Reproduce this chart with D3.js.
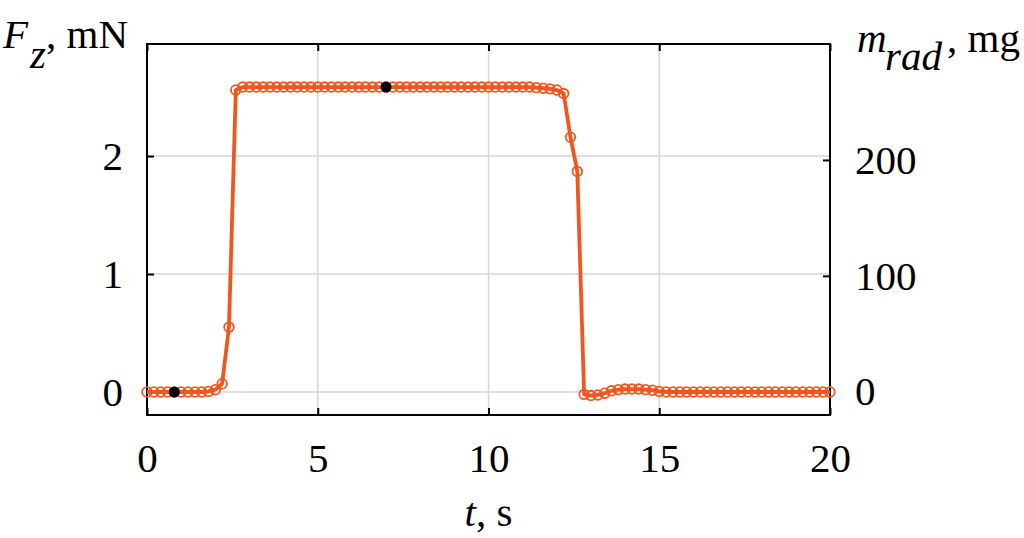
<!DOCTYPE html>
<html>
<head>
<meta charset="utf-8">
<script src="https://cdn.jsdelivr.net/npm/d3@7"></script>
<style>
  body { margin: 0; background: #fff; }
  svg text { font-family: "Liberation Serif", "DejaVu Serif", serif; fill: #000; }
</style>
</head>
<body>
<svg id="chart" width="1024" height="538"></svg>
<script>
// sample times (s), every 0.2 s
var times = [
  0.0, 0.2, 0.4, 0.6, 0.8, 1.0, 1.2, 1.4, 1.6, 1.8,
  2.0, 2.2, 2.4, 2.6, 2.8, 3.0, 3.2, 3.4, 3.6, 3.8,
  4.0, 4.2, 4.4, 4.6, 4.8, 5.0, 5.2, 5.4, 5.6, 5.8,
  6.0, 6.2, 6.4, 6.6, 6.8, 7.0, 7.2, 7.4, 7.6, 7.8,
  8.0, 8.2, 8.4, 8.6, 8.8, 9.0, 9.2, 9.4, 9.6, 9.8,
  10.0, 10.2, 10.4, 10.6, 10.8, 11.0, 11.2, 11.4, 11.6, 11.8,
  12.0, 12.2, 12.4, 12.6, 12.8, 13.0, 13.2, 13.4, 13.6, 13.8,
  14.0, 14.2, 14.4, 14.6, 14.8, 15.0, 15.2, 15.4, 15.6, 15.8,
  16.0, 16.2, 16.4, 16.6, 16.8, 17.0, 17.2, 17.4, 17.6, 17.8,
  18.0, 18.2, 18.4, 18.6, 18.8, 19.0, 19.2, 19.4, 19.6, 19.8,
  20.0
];

// vertical force Fz, mN
var force = [
  0.00, 0.00, 0.00, 0.00, 0.00, 0.00, 0.00, 0.00, 0.00, 0.005,
  0.02, 0.07, 0.55, 2.56, 2.585, 2.585, 2.585, 2.585, 2.585, 2.585,
  2.585, 2.585, 2.585, 2.585, 2.585, 2.585, 2.585, 2.585, 2.585, 2.585,
  2.585, 2.585, 2.585, 2.585, 2.585, 2.585, 2.585, 2.585, 2.585, 2.585,
  2.585, 2.585, 2.585, 2.585, 2.585, 2.585, 2.585, 2.585, 2.585, 2.585,
  2.585, 2.585, 2.585, 2.585, 2.585, 2.585, 2.585, 2.58, 2.575, 2.57,
  2.56, 2.53, 2.16, 1.87, -0.02, -0.03, -0.025, -0.01, 0.01, 0.02,
  0.025, 0.025, 0.025, 0.02, 0.015, 0.005, 0.00, 0.00, 0.00, 0.00,
  0.00, 0.00, 0.00, 0.00, 0.00, 0.00, 0.00, 0.00, 0.00, 0.00,
  0.00, 0.00, 0.00, 0.00, 0.00, 0.00, 0.00, 0.00, 0.00, 0.00,
  0.00
];

// highlighted samples
var markTimes = [0.8, 7.0];
var markForce = [0.00, 2.585];

var xTicks = [0, 5, 10, 15, 20];
var yTicks = [0, 1, 2];
var y2Ticks = [0, 100, 200];

var svg = d3.select('#chart');

var plotL = 147, plotR = 830, plotT = 44, plotB = 415;
var orange = '#f2561d';
var fs = 41;

var x = d3.scaleLinear().domain([0, 20]).range([plotL, plotR]);
var y = d3.scaleLinear().domain([-0.195, 2.95]).range([plotB, plotT]);
var y2 = d3.scaleLinear().domain([-20, 300]).range([plotB, plotT]);

// grid
var grid = svg.append('g');
grid.selectAll('line.gx')
    .data(xTicks.slice(1, -1))
    .enter().append('line')
    .attr('x1', x).attr('x2', x)
    .attr('y1', plotT).attr('y2', plotB)
    .attr('stroke', '#d6d6d6').attr('stroke-width', 1.5);
grid.selectAll('line.gy')
    .data(yTicks)
    .enter().append('line')
    .attr('x1', plotL).attr('x2', plotR)
    .attr('y1', y).attr('y2', y)
    .attr('stroke', '#d6d6d6').attr('stroke-width', 1.5);

function styleAxis(g, size) {
    g.select('.domain').remove();
    g.selectAll('.tick line').attr('stroke', '#000').attr('stroke-width', 2);
    g.selectAll('.tick text')
        .style('font-family', '"Liberation Serif", serif')
        .style('font-size', size + 'px')
        .attr('fill', '#000');
}

var ax = svg.append('g')
    .attr('transform', 'translate(0,' + plotB + ')')
    .call(d3.axisBottom(x).tickValues(xTicks).tickFormat(d3.format('d'))
        .tickSizeInner(-7).tickSizeOuter(0).tickPadding(28));
styleAxis(ax, fs);

var axTop = svg.append('g')
    .attr('transform', 'translate(0,' + plotT + ')')
    .call(d3.axisTop(x).tickValues(xTicks).tickSizeInner(-7).tickSizeOuter(0).tickFormat(''));
styleAxis(axTop, fs);

var ay = svg.append('g')
    .attr('transform', 'translate(' + plotL + ',0)')
    .call(d3.axisLeft(y).tickValues(yTicks).tickFormat(d3.format('d'))
        .tickSizeInner(-7).tickSizeOuter(0).tickPadding(24));
styleAxis(ay, fs);

var ay2 = svg.append('g')
    .attr('transform', 'translate(' + plotR + ',0)')
    .call(d3.axisRight(y2).tickValues(y2Ticks).tickFormat(d3.format('d'))
        .tickSizeInner(-7).tickSizeOuter(0).tickPadding(25));
styleAxis(ay2, fs);

// frame
svg.append('rect')
    .attr('x', plotL).attr('y', plotT)
    .attr('width', plotR - plotL).attr('height', plotB - plotT)
    .attr('fill', 'none').attr('stroke', '#000').attr('stroke-width', 2);

// data line
var pts = times.map(function (t, i) { return [t, force[i]]; });
var line = d3.line()
    .x(function (d) { return x(d[0]); })
    .y(function (d) { return y(d[1]); });

svg.append('path')
    .datum(pts)
    .attr('d', line)
    .attr('fill', 'none')
    .attr('stroke', orange)
    .attr('stroke-width', 3.8)
    .attr('stroke-linejoin', 'round');

svg.append('g').selectAll('circle')
    .data(pts)
    .enter().append('circle')
    .attr('cx', function (d) { return x(d[0]); })
    .attr('cy', function (d) { return y(d[1]); })
    .attr('r', 4.8)
    .attr('fill', 'none')
    .attr('stroke', orange)
    .attr('stroke-width', 1.8);

svg.append('g').selectAll('circle')
    .data(markTimes)
    .enter().append('circle')
    .attr('cx', function (d) { return x(d); })
    .attr('cy', function (d, i) { return y(markForce[i]); })
    .attr('r', 5.5)
    .attr('fill', '#000');

// axis titles
var t1 = svg.append('text').attr('x', 3).attr('y', 48).style('font-size', fs + 'px');
t1.append('tspan').text('F').style('font-style', 'italic');
t1.append('tspan').text('z').style('font-style', 'italic').attr('dx', 2).attr('dy', 20);
t1.append('tspan').text(', mN').attr('dy', -20);

var t2 = svg.append('g').style('font-size', fs + 'px');
t2.append('text').attr('x', 857).attr('y', 52).style('font-style', 'italic').text('m');
t2.append('text').attr('x', 885).attr('y', 70).style('font-style', 'italic').text('rad');
t2.append('text').attr('x', 1020).attr('y', 52).attr('text-anchor', 'end').text(', mg');

svg.append('text')
    .attr('x', x(10)).attr('y', 526)
    .attr('text-anchor', 'middle')
    .style('font-size', fs + 'px')
    .call(function (t) {
        t.append('tspan').text('t').style('font-style', 'italic');
        t.append('tspan').text(', s');
    });
</script>
</body>
</html>
